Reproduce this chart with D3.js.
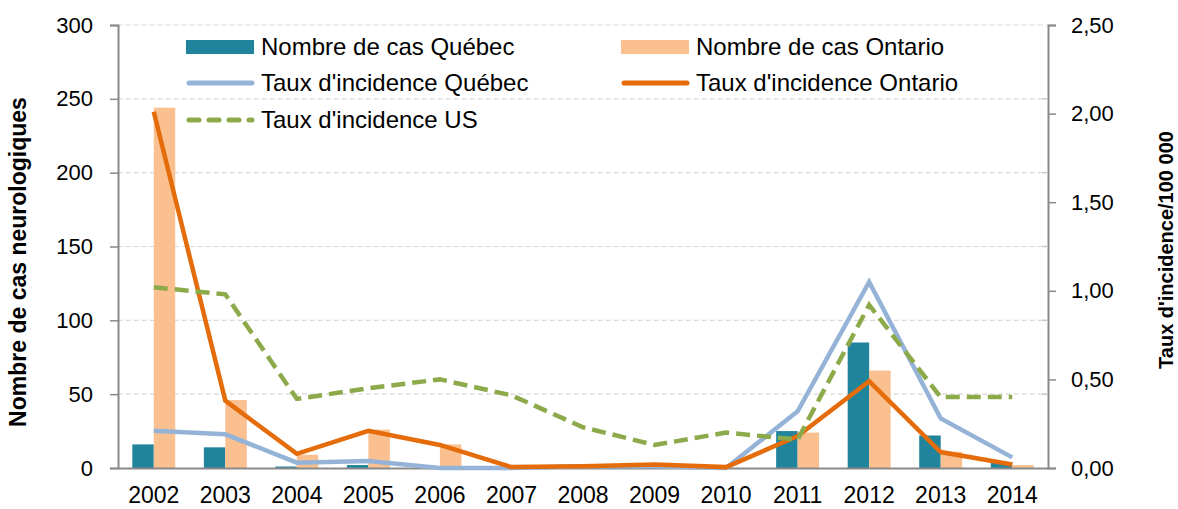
<!DOCTYPE html>
<html><head><meta charset="utf-8">
<script src="https://cdn.jsdelivr.net/npm/d3@7"></script>
<style>body{margin:0;background:#fff}svg{display:block}</style>
</head><body><svg id="c" width="1178" height="509"></svg>
<script>
const years = ["2002","2003","2004","2005","2006","2007","2008","2009","2010","2011","2012","2013","2014"];
const casQuebec  = [16, 14, 1, 2, 0, 0, 0, 0, 0, 25, 85, 22, 4];
const casOntario = [244, 46, 9, 26, 16, 0, 0, 0, 0, 24, 66, 11, 2];
const tauxQuebec  = [0.21, 0.19, 0.03, 0.04, 0.00, 0.00, 0.01, 0.01, 0.00, 0.32, 1.05, 0.28, 0.06];
const tauxOntario = [2.01, 0.38, 0.08, 0.21, 0.13, 0.005, 0.01, 0.02, 0.005, 0.18, 0.49, 0.09, 0.02];
const tauxUS      = [1.02, 0.98, 0.39, 0.45, 0.50, 0.41, 0.23, 0.13, 0.20, 0.16, 0.92, 0.40, 0.40];
const leftTicks = [0, 50, 100, 150, 200, 250, 300];
const rightTicks = [0, 0.5, 1, 1.5, 2, 2.5];

const svg = d3.select("#c");
const L = 118, R = 1048, T = 25, B = 468;
const font = "'Liberation Sans', Arial, sans-serif";
const x = d3.scaleBand().domain(years).range([L, R]);
const yL = d3.scaleLinear().domain([0, 300]).range([B, T]);
const yR = d3.scaleLinear().domain([0, 2.5]).range([B, T]);

// gridlines
svg.append("g").selectAll("line").data(leftTicks.filter(d => d > 0)).join("line")
  .attr("x1", L).attr("x2", R).attr("y1", d => yL(d)).attr("y2", d => yL(d))
  .attr("stroke", "#d9d9d9").attr("stroke-width", 1.2).attr("stroke-dasharray", "5,3");

// bars
const bw = x.bandwidth() * 0.3;
svg.append("g").selectAll("rect").data(years).join("rect")
  .attr("x", d => x(d) + x.bandwidth()/2 - bw).attr("width", bw)
  .attr("y", (d,i) => yL(casQuebec[i])).attr("height", (d,i) => B - yL(casQuebec[i]))
  .attr("fill", "#1f849c");
svg.append("g").selectAll("rect").data(years).join("rect")
  .attr("x", d => x(d) + x.bandwidth()/2).attr("width", bw)
  .attr("y", (d,i) => yL(casOntario[i])).attr("height", (d,i) => B - yL(casOntario[i]))
  .attr("fill", "#fac090");

// axes
const axisColor = "#898989";
const gL = svg.append("g").attr("transform", `translate(${L},0)`)
  .call(d3.axisLeft(yL).tickValues(leftTicks).tickSize(8).tickPadding(17));
const gR = svg.append("g").attr("transform", `translate(${R},0)`)
  .call(d3.axisRight(yR).tickValues(rightTicks).tickSize(8).tickPadding(15)
    .tickFormat(d => d3.format(".2f")(d).replace(".", ",")));
const gB = svg.append("g").attr("transform", `translate(0,${B})`)
  .call(d3.axisBottom(x).tickSize(0).tickPadding(19));
[gL, gR, gB].forEach(g => {
  g.select(".domain").attr("stroke", axisColor).attr("stroke-width", 2);
  g.selectAll(".tick line").attr("stroke", axisColor).attr("stroke-width", 1.5);
  g.selectAll("text").attr("fill", "#000").style("font-family", font).style("font-size", "22px");
});
gB.selectAll("text").style("font-size", "23px");
// small marks of left gridlines on right axis
svg.append("g").selectAll("line").data(leftTicks.filter(d => d > 0 && d < 300)).join("line")
  .attr("x1", R - 6).attr("x2", R).attr("y1", d => yL(d)).attr("y2", d => yL(d))
  .attr("stroke", "#c8c8c8").attr("stroke-width", 1.5);

// lines
const line = arr => d3.line().x((d,i) => x(years[i]) + x.bandwidth()/2).y(d => yR(d))(arr);
svg.append("path").attr("d", line(tauxQuebec)).attr("fill","none").attr("stroke","#95b3d7").attr("stroke-width",4.5);
svg.append("path").attr("d", line(tauxOntario)).attr("fill","none").attr("stroke","#e46c0a").attr("stroke-width",4.5);
svg.append("path").attr("d", line(tauxUS)).attr("fill","none").attr("stroke","#8daa4b").attr("stroke-width",4.5)
  .attr("stroke-dasharray","14,7");

// axis titles
svg.append("text").attr("transform", `translate(26,262) rotate(-90)`)
  .attr("text-anchor","middle").style("font-family", font).style("font-size","23px").style("font-weight","bold")
  .text("Nombre de cas neurologiques");
svg.append("text").attr("transform", `translate(1173,250) rotate(-90)`)
  .attr("text-anchor","middle").style("font-family", font).style("font-size","20px").style("font-weight","bold")
  .text("Taux d'incidence/100 000");

// legend
const leg = [
  {label:"Nombre de cas Québec", type:"bar", color:"#1f849c", x:186, y:47},
  {label:"Nombre de cas Ontario", type:"bar", color:"#fac090", x:621, y:47},
  {label:"Taux d'incidence Québec", type:"line", color:"#95b3d7", x:186, y:83},
  {label:"Taux d'incidence Ontario", type:"line", color:"#e46c0a", x:621, y:83},
  {label:"Taux d'incidence US", type:"dash", color:"#8daa4b", x:186, y:120}
];
const lg = svg.append("g").selectAll("g").data(leg).join("g").attr("transform", d => `translate(${d.x},${d.y})`);
lg.filter(d => d.type === "bar").append("rect").attr("x",0).attr("y",-7).attr("width",68).attr("height",14).attr("fill", d => d.color);
lg.filter(d => d.type !== "bar").append("line").attr("x1",3).attr("x2",66).attr("y1",0).attr("y2",0)
  .attr("stroke", d => d.color).attr("stroke-width",5).attr("stroke-linecap","round")
  .attr("stroke-dasharray", d => d.type === "dash" ? "10,10" : null);
lg.append("text").attr("x",75).attr("y",0).attr("dy","0.35em")
  .style("font-family", font).style("font-size","24px").text(d => d.label);
</script></body></html>
